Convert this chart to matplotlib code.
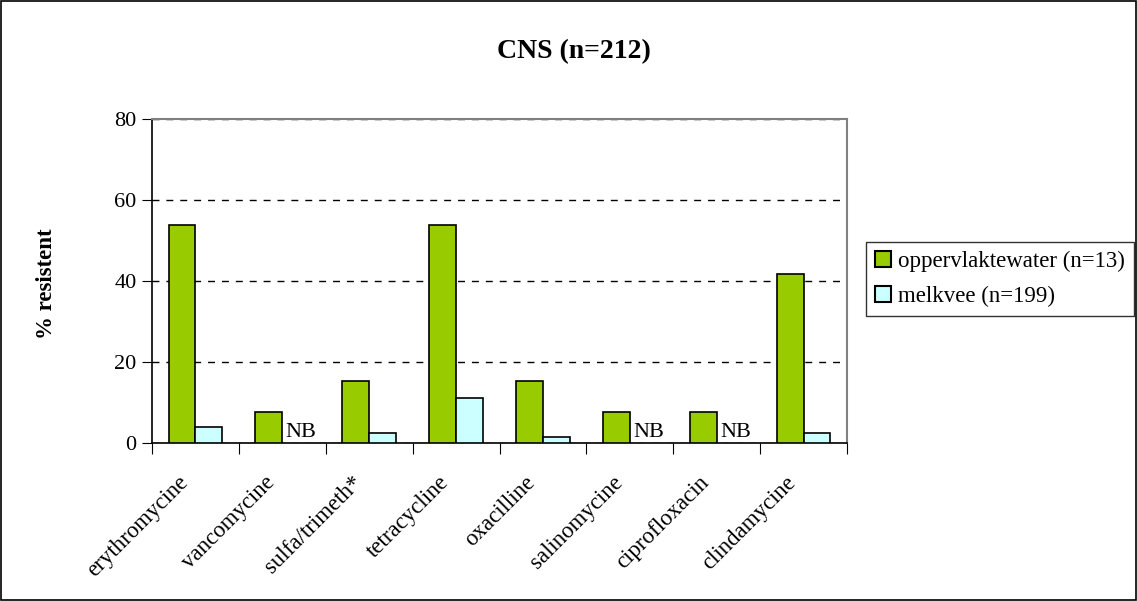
import matplotlib
matplotlib.use("Agg")
import matplotlib.pyplot as plt
import matplotlib.transforms as mtransforms
import numpy as np
from matplotlib.patches import Rectangle

# Data
antibiotics = ["erythromycine", "vancomycine", "sulfa/trimeth*", "tetracycline",
               "oxacilline", "salinomycine", "ciprofloxacin", "clindamycine"]
oppervlaktewater = [53.8, 7.7, 15.4, 53.8, 15.4, 7.7, 7.7, 41.7]
melkvee = [4.0, None, 2.5, 11.1, 1.5, None, None, 2.5]
series_labels = ["oppervlaktewater (n=13)", "melkvee (n=199)"]
title = "CNS (n=212)"
ylabel = "% resistent"

plt.rcParams["font.family"] = ["Liberation Serif", "DejaVu Serif"]

fig = plt.figure(figsize=(11.37, 6.01), dpi=100)
ax = fig.add_axes([152 / 1137, 1 - 443 / 601, 695 / 1137, 324 / 601])

x = np.arange(len(antibiotics))
w = 0.31
green = "#99CC00"
cyan = "#CCFFFF"

mv = np.array([np.nan if v is None else v for v in melkvee])
b1 = ax.bar(x - w / 2, oppervlaktewater, w, color=green, edgecolor="black", linewidth=1.2, zorder=3)
b2 = ax.bar(x + w / 2, np.nan_to_num(mv), w, color=cyan, edgecolor="black", linewidth=1.2, zorder=3)
for i, v in enumerate(melkvee):
    if v is None:
        b2[i].set_visible(False)
        ax.text(x[i] + 0.04, 0.2, "NB", ha="left", va="bottom", fontsize=16, zorder=4)

ax.set_xlim(-0.5, len(antibiotics) - 0.5)
ax.set_ylim(0, 80)
ax.set_yticks([0, 20, 40, 60, 80])
ax.tick_params(axis="y", labelsize=16, length=7, direction="out", pad=4)
ax.set_xticks(np.arange(len(antibiotics) + 1) - 0.5)
ax.set_xticklabels([])
ax.tick_params(axis="x", length=8, direction="out")
ax.set_xticks(x, minor=True)
ax.set_xticklabels(antibiotics, minor=True, rotation=45, ha="right", va="top",
                   rotation_mode="anchor", fontsize=16.5)
ax.tick_params(axis="x", which="minor", length=0, pad=21)
offset = mtransforms.ScaledTranslation(-18 / 100, 0, fig.dpi_scale_trans)
for lbl in ax.xaxis.get_minorticklabels():
    lbl.set_transform(lbl.get_transform() + offset)

ax.yaxis.grid(True, linestyle=(0, (5, 5)), color="black", linewidth=1)
ax.set_axisbelow(True)
for s in ["top", "right"]:
    ax.spines[s].set_color("#808080")
    ax.spines[s].set_linewidth(1.5)
for s in ["left", "bottom"]:
    ax.spines[s].set_color("black")
    ax.spines[s].set_linewidth(1.2)

fig.text(47 / 1137, 1 - 284 / 601, ylabel, rotation=90, ha="center", va="center",
         fontsize=16.5, fontweight="bold")
fig.text(574 / 1137, 1 - 52 / 601, title, ha="center", va="center",
         fontsize=20, fontweight="bold")

h1 = Rectangle((0, 0), 1, 1, facecolor=green, edgecolor="black", linewidth=1.5)
h2 = Rectangle((0, 0), 1, 1, facecolor=cyan, edgecolor="black", linewidth=1.5)
leg = fig.legend([h1, h2], series_labels, loc="upper left",
                 bbox_to_anchor=(866 / 1137, 1 - 242 / 601), fontsize=16.5,
                 frameon=True, fancybox=False, edgecolor="black",
                 handlelength=0.7, handleheight=0.7, handletextpad=0.3,
                 borderpad=0.4, labelspacing=0.6, borderaxespad=0)
leg.get_frame().set_linewidth(1.0)

fig.patches.append(Rectangle((0.001, 0.001), 0.998, 0.997, transform=fig.transFigure,
                             fill=False, edgecolor="black", linewidth=1.2))

fig.savefig("out.png", dpi=100)
